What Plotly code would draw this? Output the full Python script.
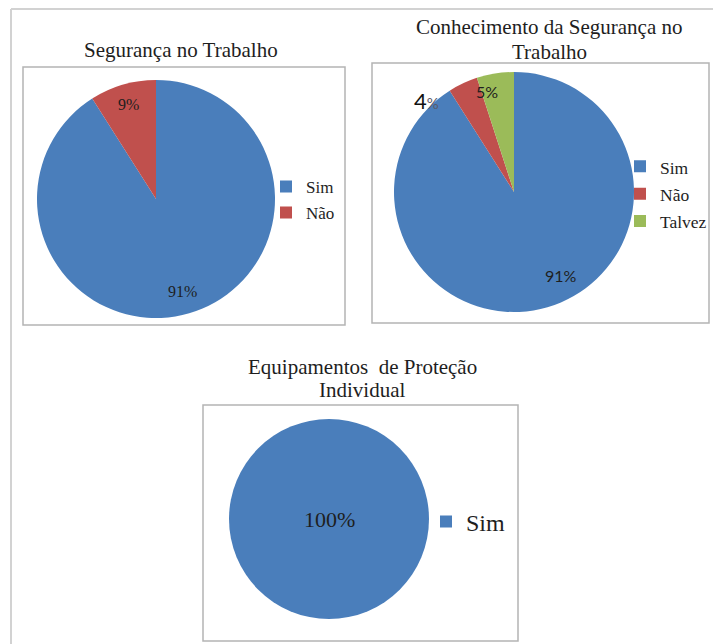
import numpy as np
import plotly.graph_objects as go

W, H = 713, 644

# ---- data -------------------------------------------------------------
seg_labels = ["Sim", "Não"]
seg_values = [91, 9]

con_labels = ["Sim", "Não", "Talvez"]
con_values = [91, 4, 5]

epi_labels = ["Sim"]
epi_values = [100]

seg_title = ["Segurança no Trabalho"]
con_title = ["Conhecimento da Segurança no", "Trabalho"]
epi_title = ["Equipamentos  de Proteção", "Individual"]

slice_colors = {"Sim": "#4A7EBB", "Não": "#C0504D", "Talvez": "#9BBB59"}


def px(x):
    return x / W


def py(y):
    return 1 - y / H


SERIF = "Liberation Serif"
SANS = "Lato"
INK = "#1e1e1e"

# panel geometry (pixels) and label styling
panels = [
    dict(labels=seg_labels, values=seg_values, title=seg_title,
         cx=156, cy=199, r=119, box=(23, 67, 345, 325),
         title_x=181, title_y=[50], title_size=21,
         legend="legend", leg_x=266, leg_y=200, leg_row=17.7, leg_text=17,
         lab_font=SERIF, lab_size=16,
         lab_place=[(0.81, 0, None), (0.83, 0, None)]),
    dict(labels=con_labels, values=con_values, title=con_title,
         cx=514, cy=192, r=120, box=(372, 63, 709, 323),
         title_x=549, title_y=[27, 52], title_size=21,
         legend="legend2", leg_x=620, leg_y=194, leg_row=18.8, leg_text=17.5,
         lab_font=SANS, lab_size=16,
         lab_place=[(0.80, -13, None), (1.06, -18.5, "big4"), (0.87, -6, None)]),
    dict(labels=epi_labels, values=epi_values, title=epi_title,
         cx=329, cy=519, r=100, box=(203, 405, 518, 641),
         title_x=362, title_y=[367, 390], title_size=21,
         legend="legend3", leg_x=426, leg_y=522, leg_row=24, leg_text=24,
         lab_font=SERIF, lab_size=22,
         lab_place=[(0.0, 0, None)]),
]

fig = go.Figure()
annotations = []
shapes = []

# outer frame (top and left edges)
shapes.append(dict(type="line", xref="paper", yref="paper",
                   x0=px(11), y0=py(9), x1=px(713), y1=py(9),
                   line=dict(color="#d2d2d2", width=2)))
shapes.append(dict(type="line", xref="paper", yref="paper",
                   x0=px(11), y0=py(9), x1=px(11), y1=py(644),
                   line=dict(color="#d2d2d2", width=2)))

for p in panels:
    labels, values = p["labels"], p["values"]
    cx, cy, r = p["cx"], p["cy"], p["r"]

    # each chart keeps its own legend entries at its own text size
    legend_text = [f"<span style='font-size:{p['leg_text']}px'>{l}</span>"
                   for l in labels]

    fig.add_trace(go.Pie(
        labels=legend_text, values=values,
        sort=False, direction="clockwise", rotation=0,
        marker=dict(colors=[slice_colors[l] for l in labels],
                    line=dict(width=0)),
        textinfo="none", hoverinfo="label+percent",
        domain=dict(x=[px(cx - r), px(cx + r)], y=[py(cy + r), py(cy - r)]),
        legend=p["legend"],
    ))

    # chart frame
    x0, y0, x1, y1 = p["box"]
    shapes.append(dict(type="rect", xref="paper", yref="paper",
                       x0=px(x0), y0=py(y1), x1=px(x1), y1=py(y0),
                       line=dict(color="#b4b4b4", width=1.5),
                       fillcolor="rgba(0,0,0,0)"))

    # chart title
    for line, ty in zip(p["title"], p["title_y"]):
        annotations.append(dict(text=line, x=px(p["title_x"]), y=py(ty),
                                xref="paper", yref="paper", showarrow=False,
                                xanchor="center", yanchor="middle",
                                font=dict(family=SERIF, size=p["title_size"],
                                          color=INK)))

    # percentage labels placed along each slice's mid angle
    vals = np.array(values, dtype=float)
    total = vals.sum()
    starts = np.concatenate([[0.0], np.cumsum(vals)[:-1]]) / total * 360.0
    mids = starts + vals / total * 180.0
    for v, mid, (frac, nudge, style) in zip(vals, mids, p["lab_place"]):
        pct = f"{v / total * 100:.0f}%"
        ang = np.deg2rad(mid + nudge)
        lx = cx + frac * r * np.sin(ang)
        ly = cy - frac * r * np.cos(ang)
        if style == "big4":
            num = pct[:-1]
            text = (f"<span style='font-size:22px;color:#111111'>{num}</span>"
                    f"<span style='font-size:15px;color:#5a5a6a'>%</span>")
        else:
            text = pct
        annotations.append(dict(text=text, x=px(lx), y=py(ly),
                                xref="paper", yref="paper", showarrow=False,
                                xanchor="center", yanchor="middle",
                                font=dict(family=p["lab_font"],
                                          size=p["lab_size"], color=INK)))

legend_common = dict(xanchor="left", yanchor="middle", orientation="v",
                     bgcolor="rgba(0,0,0,0)", borderwidth=0,
                     itemclick=False, itemdoubleclick=False)

layout_legends = {}
for p in panels:
    layout_legends[p["legend"]] = dict(
        x=px(p["leg_x"]), y=py(p["leg_y"]),
        font=dict(family=SERIF, size=p["leg_row"], color=INK),
        **legend_common)

fig.update_layout(
    width=W, height=H,
    margin=dict(l=0, r=0, t=0, b=0),
    paper_bgcolor="white", plot_bgcolor="white",
    showlegend=True,
    annotations=annotations,
    shapes=shapes,
    **layout_legends,
)

fig.write_html("out.html")
